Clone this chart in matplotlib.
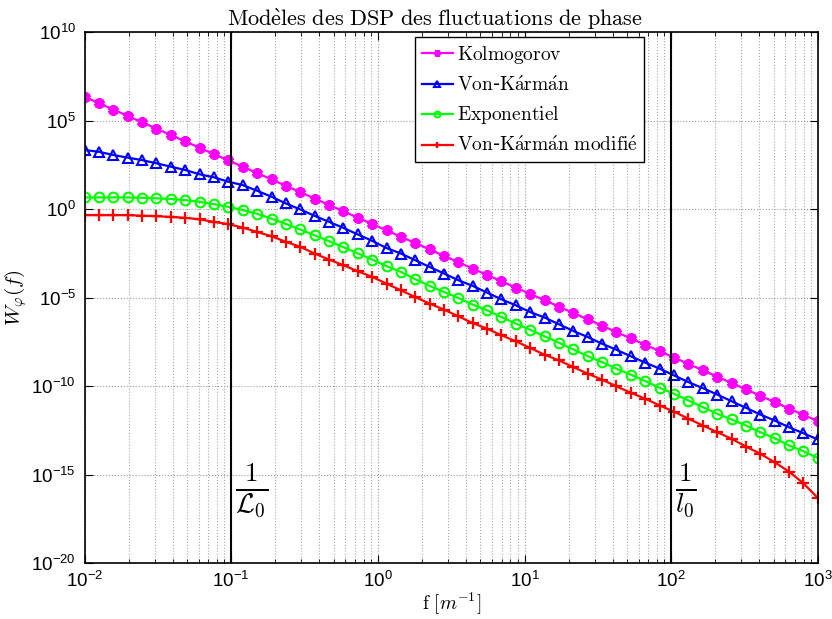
import numpy as np
import matplotlib
matplotlib.use("Agg")
import matplotlib.pyplot as plt
from matplotlib.ticker import LogLocator, FixedLocator, NullFormatter

plt.rcParams['mathtext.fontset'] = 'cm'
plt.rcParams['axes.formatter.use_mathtext'] = True

# abscisse : exposants log10 de f [m^-1]
log_f = [-2.000, -1.902, -1.804, -1.706, -1.608, -1.510, -1.412, -1.314, -1.216, -1.118,
         -1.020, -0.922, -0.824, -0.725, -0.627, -0.529, -0.431, -0.333, -0.235, -0.137,
         -0.039, 0.059, 0.157, 0.255, 0.353, 0.451, 0.549, 0.647, 0.745, 0.843,
         0.941, 1.039, 1.137, 1.235, 1.333, 1.431, 1.529, 1.627, 1.725, 1.824,
         1.922, 2.020, 2.118, 2.216, 2.314, 2.412, 2.510, 2.608, 2.706, 2.804,
         2.902, 3.000]

# valeurs (log10 de W)
log_kolmo = [6.35, 5.99, 5.63, 5.27, 4.91, 4.55, 4.19, 3.83, 3.47, 3.11,
             2.76, 2.40, 2.04, 1.68, 1.32, 0.96, 0.60, 0.24, -0.12, -0.48,
             -0.84, -1.20, -1.56, -1.92, -2.28, -2.64, -3.00, -3.36, -3.72, -4.08,
             -4.44, -4.79, -5.15, -5.51, -5.87, -6.23, -6.59, -6.95, -7.31, -7.67,
             -8.03, -8.39, -8.75, -9.11, -9.47, -9.83, -10.19, -10.55, -10.91, -11.27,
             -11.63, -11.98]
log_vk = [3.34, 3.24, 3.06, 2.91, 2.77, 2.59, 2.40, 2.21, 1.97, 1.80,
          1.55, 1.36, 1.04, 0.70, 0.32, -0.02, -0.38, -0.72, -1.06, -1.43,
          -1.79, -2.20, -2.51, -2.89, -3.27, -3.64, -4.02, -4.34, -4.72, -5.10,
          -5.44, -5.82, -6.13, -6.51, -6.89, -7.23, -7.61, -7.95, -8.32, -8.68,
          -9.02, -9.40, -9.78, -10.12, -10.48, -10.86, -11.23, -11.61, -11.95, -12.33,
          -12.67, -13.02]
log_expo = [0.66, 0.66, 0.66, 0.66, 0.64, 0.61, 0.57, 0.51, 0.41, 0.28,
            0.13, -0.05, -0.26, -0.54, -0.84, -1.15, -1.48, -1.81, -2.15, -2.50,
            -2.85, -3.22, -3.55, -3.96, -4.34, -4.68, -5.02, -5.40, -5.72, -6.10,
            -6.47, -6.82, -7.19, -7.55, -7.93, -8.31, -8.65, -9.02, -9.36, -9.72,
            -10.10, -10.44, -10.82, -11.19, -11.57, -11.89, -12.23, -12.61, -12.95, -13.36,
            -13.69, -14.06]
log_vkm = [-0.34, -0.34, -0.34, -0.34, -0.37, -0.40, -0.44, -0.49, -0.58, -0.72,
           -0.85, -1.04, -1.29, -1.53, -1.85, -2.13, -2.51, -2.85, -3.17, -3.51,
           -3.83, -4.21, -4.59, -4.97, -5.34, -5.68, -6.06, -6.44, -6.76, -7.13,
           -7.47, -7.85, -8.23, -8.55, -8.93, -9.30, -9.64, -10.02, -10.38, -10.72,
           -11.10, -11.45, -11.85, -12.23, -12.61, -12.98, -13.42, -13.83, -14.31, -14.84,
           -15.50, -16.33]

# libellés (mathtext, police Computer Modern)
noms = [r'$\mathrm{Kolmogorov}$',
        r'$\mathrm{Von}$-$\mathrm{K\acute{a}rm\acute{a}n}$',
        r'$\mathrm{Exponentiel}$',
        r'$\mathrm{Von}$-$\mathrm{K\acute{a}rm\acute{a}n\ modifi\acute{e}}$']
titre = r'$\mathrm{Mod\grave{e}les\ des\ DSP\ des\ fluctuations\ de\ phase}$'
f_L0 = 1e-1
f_l0 = 1e2

f = np.power(10.0, log_f)

fig = plt.figure(figsize=(8.32, 6.19), dpi=100)
ax = fig.add_axes([0.1016, 0.0905, 0.8814, 0.8575])

ax.loglog(f, np.power(10.0, log_kolmo), color='#ff00ff', lw=1.6, marker=(6, 2, 0),
          ms=7.5, mew=2.8, label=noms[0])
ax.loglog(f, np.power(10.0, log_vk), color='#0000ff', lw=1.6, marker='^',
          ms=7.5, mfc='none', mew=1.5, label=noms[1])
ax.loglog(f, np.power(10.0, log_expo), color='#00ff00', lw=1.6, marker='o',
          ms=7, mfc='none', mew=1.5, label=noms[2])
ax.loglog(f, np.power(10.0, log_vkm), color='#ff0000', lw=1.6, marker='+',
          ms=8, mew=1.6, label=noms[3])

ax.axvline(f_L0, color='k', lw=1.5)
ax.axvline(f_l0, color='k', lw=1.5)
ax.text(0.106, 1.2e-16, r'$\frac{1}{\mathcal{L}_0}$', fontsize=28, va='center', ha='left')
ax.text(106, 1.2e-16, r'$\frac{1}{l_0}$', fontsize=28, va='center', ha='left')

ax.set_xlim(1e-2, 1e3)
ax.set_ylim(1e-20, 1e10)
ax.yaxis.set_major_locator(FixedLocator([10.0**k for k in range(-20, 11, 5)]))
ax.yaxis.set_minor_locator(FixedLocator([]))
ax.xaxis.set_major_locator(LogLocator(base=10, numticks=10))
ax.xaxis.set_minor_locator(LogLocator(base=10, subs=np.arange(2, 10), numticks=20))
ax.xaxis.set_minor_formatter(NullFormatter())

ax.grid(True, which='major', linestyle=':', color='#999999', lw=0.8)
ax.grid(True, which='minor', axis='x', linestyle=':', color='#aaaaaa', lw=0.8)
ax.tick_params(which='both', direction='in', top=True, right=True)
ax.tick_params(which='major', length=6, labelsize=13.5, pad=6)
ax.tick_params(which='minor', length=3)
for lab in ax.get_xticklabels() + ax.get_yticklabels():
    lab.set_fontfamily('Liberation Sans')
for s in ax.spines.values():
    s.set_linewidth(1.2)

ax.set_title(titre, fontsize=16, pad=4, x=0.478)
ax.set_xlabel(r'$\mathrm{f}\ [m^{-1}]$', fontsize=14, labelpad=0)
ax.set_ylabel(r'$W_\varphi(f)$', fontsize=15, labelpad=2)

leg = ax.legend(loc='upper left', bbox_to_anchor=(0.4506, 0.991), prop={'size': 14},
                fancybox=False, edgecolor='k', framealpha=1, handlelength=1.6,
                borderpad=0.35, labelspacing=0.5, handletextpad=0.2, markerscale=0.6,
                borderaxespad=0)
leg.get_frame().set_linewidth(1.0)

fig.savefig('out.png', dpi=100)
